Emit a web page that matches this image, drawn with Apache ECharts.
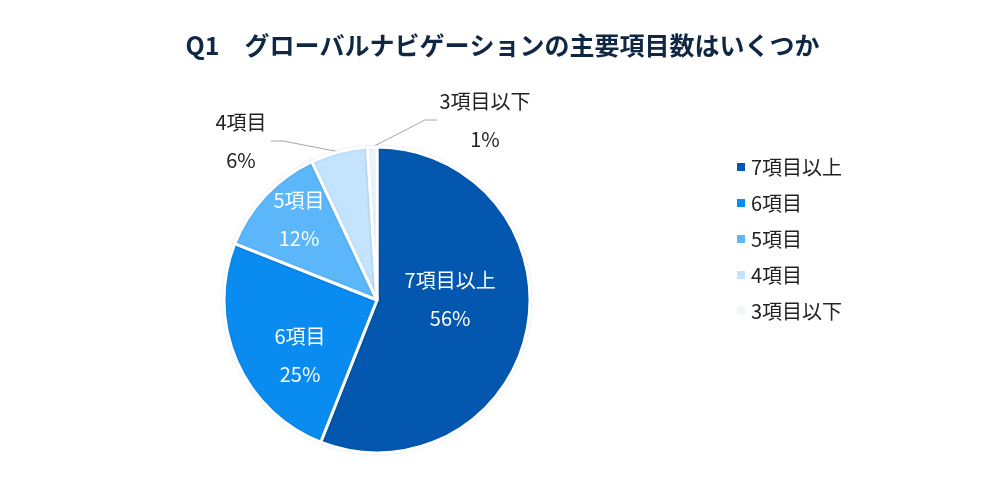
<!DOCTYPE html>
<html>
<head>
<meta charset="utf-8">
<script src="https://cdn.jsdelivr.net/npm/echarts@6/dist/echarts.min.js"></script>
<style>
  html, body { margin: 0; padding: 0; background: #fff; }
  #chart { width: 1005px; height: 481px; }
</style>
</head>
<body>
<div id="chart"></div>
<script>
var titleText = 'Q1\u3000グローバルナビゲーションの主要項目数はいくつか';
var categories = ['7項目以上', '6項目', '5項目', '4項目', '3項目以下'];
var shares = [56, 25, 12, 6, 1];
var sliceColors = ['#0357ae', '#0a8bef', '#5cb6fa', '#c4e3fc', '#eef6fd'];
var outsideLabel = [false, false, false, true, true];
// label nudges for inside labels, and where the two outside labels are placed
var labelNudge = [[-5, -15], [-4, 24], [-20, -26], [0, 0], [0, 0]];
var outsideSpot = { 3: [241, 141], 4: [485, 120] };

var fontName = '"Noto Sans CJK JP", "Noto Sans", sans-serif';

var pieData = categories.map(function (name, i) {
    var item = {
        name: name,
        value: shares[i],
        itemStyle: { color: sliceColors[i] }
    };
    if (outsideLabel[i]) {
        item.label = {
            position: 'outside',
            color: '#222',
            formatter: '{t|{b}}\n{t|{d}%}',
            rich: {
                t: {
                    width: i === 3 ? 60 : 96,
                    align: 'center',
                    fontFamily: fontName,
                    fontSize: 20,
                    lineHeight: 38,
                    color: '#222'
                }
            }
        };
        item.labelLine = { show: true };
    } else {
        item.label = { offset: labelNudge[i] };
    }
    return item;
});

var chart = echarts.init(document.getElementById('chart'));
chart.setOption({
    animation: false,
    title: {
        text: titleText,
        left: 'center',
        top: 28,
        textStyle: {
            fontFamily: fontName,
            fontSize: 25,
            fontWeight: 'bold',
            color: '#0f2744'
        }
    },
    legend: {
        orient: 'vertical',
        left: 730,
        top: 152,
        itemWidth: 10,
        itemHeight: 10,
        itemGap: 16,
        icon: 'rect',
        data: categories,
        textStyle: {
            fontFamily: fontName,
            fontSize: 20,
            lineHeight: 20,
            color: '#222'
        }
    },
    series: [{
        type: 'pie',
        center: [377, 300],
        radius: 153,
        startAngle: 90,
        clockwise: true,
        avoidLabelOverlap: false,
        minShowLabelAngle: 0,
        itemStyle: {
            borderColor: '#fff',
            borderWidth: 3,
            shadowColor: 'rgba(30, 60, 120, 0.12)',
            shadowBlur: 3
        },
        label: {
            show: true,
            position: 'inside',
            formatter: '{b}\n{d}%',
            fontFamily: fontName,
            fontSize: 20,
            lineHeight: 38,
            color: '#fff'
        },
        labelLine: {
            length: 20,
            length2: 12,
            lineStyle: { color: '#a6a6a6', width: 1 }
        },
        labelLayout: function (params) {
            var spot = outsideSpot[params.dataIndex];
            if (!spot) {
                return {};
            }
            return {
                x: spot[0],
                y: spot[1],
                align: 'center',
                verticalAlign: 'middle',
                hideOverlap: false
            };
        },
        emphasis: { disabled: true },
        data: pieData
    }]
});
</script>
</body>
</html>
